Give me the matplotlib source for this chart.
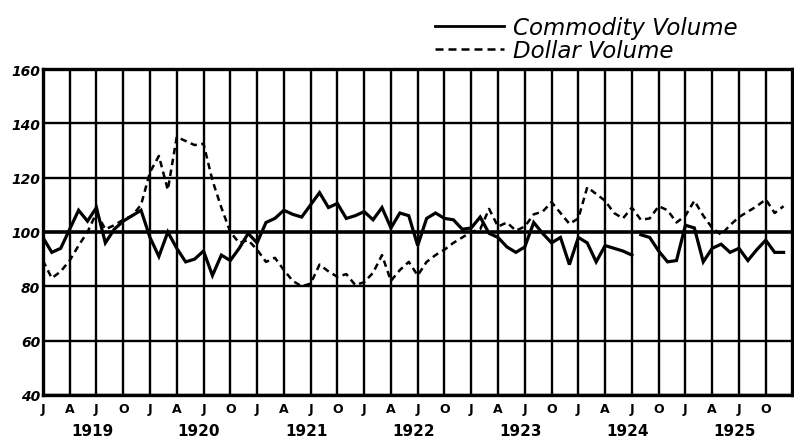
import numpy as np
import matplotlib
matplotlib.use("Agg")
import matplotlib.pyplot as plt
from matplotlib.lines import Line2D

# monthly index values, Jan 1919 .. Dec 1925
commodity = [98, 92.5, 94, 101, 108, 104, 109, 96, 101, 104, 106, 108,
             98, 91, 100, 94, 89, 90, 93, 84, 91.5, 89.5, 94, 99.5,
             96, 103.5, 105, 108, 106.5, 105.5, 110, 114.5, 109, 110.5, 105, 106,
             107.5, 104.5, 109, 101.5, 107, 106, 95, 105, 107, 105, 104.5, 101,
             101.5, 105.5, 99.5, 98, 94.5, 92.5, 94.5, 103.5, 99.5, 96, 98, 88,
             98, 96, 89, 95, 94, 93, 91.5, 99, 98, 93, 89, 89.5,
             102.5, 101.5, 89, 94, 95.5, 92.5, 94, 89.5, 93.5, 97, 92.5, 92.5]
commodity_break = 67  # gap in the commodity line mid-1924

dollar = [89.5, 83, 85.5, 89.5, 95, 100, 107, 101, 102.5, 104.5, 106, 110,
          122, 128, 115.5, 135, 133.5, 132, 132.5, 119, 109, 100, 96, 97,
          93.5, 89, 90.5, 86, 82, 80, 81, 88, 85.5, 83.5, 84.5, 80.5,
          81.5, 85, 91.5, 82, 86, 89, 84, 89, 91.5, 93.5, 96, 98,
          100, 101, 108.5, 102, 103.5, 100.5, 102, 106.5, 107.5, 111, 107, 103,
          105, 116.5, 114, 111.5, 107, 105, 109, 104.5, 105, 109.5, 108, 103.5,
          106, 111.5, 106, 101.5, 99, 102.5, 105.5, 107.5, 109.5, 112, 107, 109.5]

quarter_labels = ["J", "A", "J", "O"] * 7
years = ["1919", "1920", "1921", "1922", "1923", "1924", "1925"]
y_ticks = [40, 60, 80, 100, 120, 140, 160]

months = np.arange(len(commodity))

fig = plt.figure(figsize=(7.94, 4.39), dpi=100)
ax = fig.add_axes([0.054, 0.098, 0.943, 0.7425])

# grid
for q in range(0, 84, 3):
    ax.axvline(q, color="black", lw=1.7, zorder=1)
for v in y_ticks:
    ax.axhline(v, color="black", lw=2.6 if v == 100 else 1.7, zorder=1)

ax.plot(months[:commodity_break], commodity[:commodity_break], color="black", lw=2.3,
        solid_joinstyle="miter", zorder=3)
ax.plot(months[commodity_break:], commodity[commodity_break:], color="black", lw=2.3,
        solid_joinstyle="miter", zorder=3)
ax.plot(months, dollar, color="black", lw=1.8, dashes=(2.6, 1.8), zorder=3)

ax.set_xlim(0, 83.9)
ax.set_ylim(40, 160)
ax.set_yticks(y_ticks)
ax.set_yticklabels([str(v) for v in y_ticks], fontsize=10, fontweight="bold", fontstyle="italic")
ax.set_xticks(np.arange(0, 84, 3))
ax.set_xticklabels(quarter_labels, fontsize=9, fontweight="bold")
ax.tick_params(length=0)
ax.tick_params(axis="x", pad=5)
ax.tick_params(axis="y", pad=2)
for s in ax.spines.values():
    s.set_linewidth(2.4)

for i, yr in enumerate(years):
    ax.text(12 * i + 5.5, -0.108, yr, transform=ax.get_xaxis_transform(),
            ha="center", va="center", fontsize=11, fontweight="bold")

handles = [Line2D([], [], color="black", lw=2),
           Line2D([], [], color="black", lw=1.8, dashes=(3.2, 2.0))]
fig.legend(handles, ["Commodity Volume", "Dollar Volume"], loc="lower left",
           bbox_to_anchor=(0.548, 0.857), bbox_transform=fig.transFigure,
           frameon=False, borderpad=0, borderaxespad=0, handlelength=3.0,
           handletextpad=0.4, labelspacing=0.0,
           prop={"size": 16.5, "style": "italic"})

fig.savefig("out.png", dpi=100)
